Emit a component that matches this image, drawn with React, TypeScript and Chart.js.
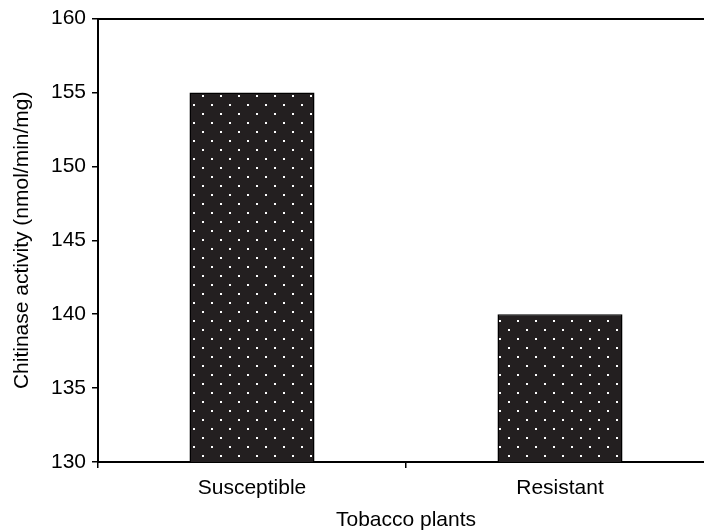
import React, { useEffect, useRef } from "react";
import { Chart, registerables } from "chart.js";

Chart.register(...registerables);

// ---- data ----
const categories = ["Susceptible", "Resistant"];
const chitinaseActivity = [155, 140];
const yTickValues = [130, 135, 140, 145, 150, 155, 160];
const xTitle = "Tobacco plants";
const yTitle = "Chitinase activity (nmol/min/mg)";

const FONT = "'Liberation Sans', Arial, Helvetica, sans-serif";
const BAR_FILL = "#231f20";

function makeDotPattern(): CanvasPattern | string {
  const c = document.createElement("canvas");
  c.width = 18;
  c.height = 18;
  const g = c.getContext("2d");
  if (!g) return BAR_FILL;
  g.fillStyle = BAR_FILL;
  g.fillRect(0, 0, 18, 18);
  g.fillStyle = "#ffffff";
  g.fillRect(4, 5, 2, 2);
  g.fillRect(13, 14, 2, 2);
  return g.createPattern(c, "repeat") || BAR_FILL;
}

export default function App() {
  const ref = useRef<HTMLCanvasElement>(null);

  useEffect(() => {
    const canvas = ref.current;
    if (!canvas) return;
    Chart.defaults.font.family = FONT;
    const chart = new Chart(canvas, {
      type: "bar",
      data: {
        labels: categories,
        datasets: [
          {
            data: chitinaseActivity,
            backgroundColor: makeDotPattern(),
            borderColor: "#000000",
            borderWidth: 1.5,
            borderSkipped: false,
            categoryPercentage: 1,
            barPercentage: 0.406,
          },
        ],
      },
      options: {
        responsive: false,
        animation: false,
        devicePixelRatio: 1,
        layout: { padding: { top: 18, left: 0, right: 0, bottom: 0 } },
        plugins: {
          legend: { display: false },
          tooltip: { enabled: false },
        },
        scales: {
          x: {
            type: "category",
            position: "bottom",
            offset: true,
            grid: {
              display: true,
              offset: true,
              drawOnChartArea: false,
              drawTicks: true,
              tickLength: 6,
              color: "#000000",
              lineWidth: 1.5,
            },
            border: { display: true, color: "#000000", width: 2 },
            ticks: {
              color: "#000000",
              padding: 8,
              maxRotation: 0,
              font: { size: 21, family: FONT },
            },
            title: {
              display: true,
              text: xTitle,
              color: "#000000",
              padding: { top: 0, bottom: 0 },
              font: { size: 21, family: FONT, lineHeight: 1 },
            },
            afterFit: (scale: any) => {
              scale.height = 69;
            },
          },
          x2: {
            type: "category",
            position: "top",
            grid: { display: true, drawOnChartArea: false, drawTicks: false },
            border: { display: true, color: "#000000", width: 2 },
            ticks: { display: false },
            afterFit: (scale: any) => {
              scale.height = 0;
            },
          },
          y: {
            type: "linear",
            min: 130,
            max: 160,
            grid: {
              display: true,
              drawOnChartArea: false,
              drawTicks: true,
              tickLength: 6,
              color: "#000000",
              lineWidth: 1.5,
            },
            border: { display: true, color: "#000000", width: 2 },
            ticks: {
              color: "#000000",
              padding: 6,
              stepSize: 5,
              font: { size: 21, family: FONT },
            },
            afterBuildTicks: (scale: any) => {
              scale.ticks = yTickValues.map((v) => ({ value: v }));
            },
            title: {
              display: true,
              text: yTitle,
              color: "#000000",
              padding: { top: 12, bottom: 0 },
              font: { size: 21, family: FONT, lineHeight: 1 },
            },
            afterFit: (scale: any) => {
              scale.width = 98;
            },
          },
        },
      },
    });
    return () => chart.destroy();
  }, []);

  return (
    <div
      style={{
        position: "fixed",
        left: 0,
        top: 0,
        width: 704,
        height: 531,
        overflow: "hidden",
        background: "#ffffff",
      }}
    >
      <canvas ref={ref} width={714} height={531} style={{ display: "block" }} />
    </div>
  );
}
